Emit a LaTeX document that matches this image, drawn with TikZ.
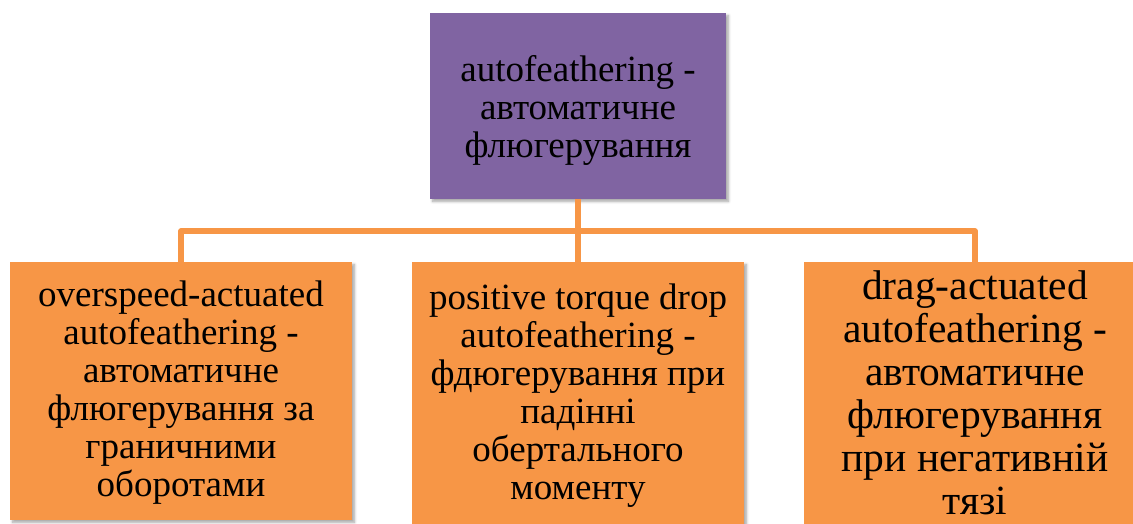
\documentclass[tikz,border=0pt]{standalone}
\usepackage{fontspec}
\setmainfont{Liberation Serif}
\usetikzlibrary{shadows.blur}

\definecolor{boxpurple}{HTML}{8064A2}
\definecolor{boxorange}{HTML}{F79646}

\tikzset{
  box/.style={rectangle, inner sep=0pt, outer sep=0pt,
    blur shadow={shadow xshift=2.5pt, shadow yshift=-2.5pt,
      shadow blur radius=2.5pt, shadow blur steps=6, shadow opacity=35}},
  headbox/.style={box, fill=boxpurple},
  itembox/.style={box, fill=boxorange},
  label/.style={align=center, inner sep=0pt, text=black,
    font=\fontsize{37}{38}\selectfont},
  biglabel/.style={label, font=\fontsize{41.5}{43}\selectfont},
  conn/.style={draw=boxorange, line width=5.5pt, line join=round}
}

\begin{document}
\begin{tikzpicture}[x=1pt, y=-1pt]
  \useasboundingbox (0,0) rectangle (1133,523);
  \clip (0,0) rectangle (1133,523);

  % boxes
  \node[headbox, minimum width=296pt, minimum height=186pt] (top) at (578,106) {};
  \node[itembox, minimum width=342pt, minimum height=258pt] (left) at (181,391) {};
  \node[itembox, minimum width=332pt, minimum height=270pt] (mid) at (578,397) {};
  \node[itembox, minimum width=342pt, minimum height=270pt] (right) at (975,397) {};

  % connectors
  \coordinate (bus) at (578,231);
  \draw[conn] (top.south) -- (mid.north);
  \draw[conn] (left.north) |- (bus) -| (right.north);

  % texts
  \node[label] (toptext) at (578,110) {autofeathering -\\автоматичне\\флюгерування};
  \node[label] (lefttext) at (181,393) {overspeed-actuated\\autofeathering -\\автоматичне\\флюгерування за\\граничними\\оборотами};
  \node[label] (midtext) at (578,396) {positive torque drop\\autofeathering -\\фдюгерування при\\падінні\\обертального\\моменту};
  \node[biglabel] (righttext) at (975,393) {drag-actuated\\autofeathering -\\автоматичне\\флюгерування\\при негативній\\тязі};
\end{tikzpicture}
\end{document}
